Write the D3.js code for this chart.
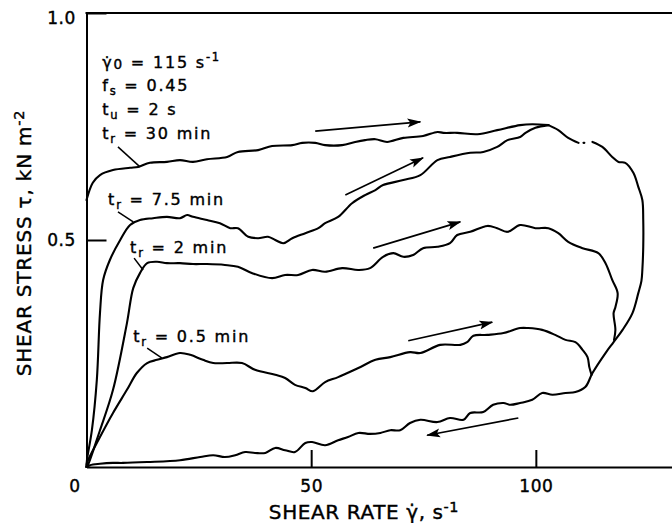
<!DOCTYPE html>
<html>
<head>
<meta charset="utf-8">
<script src="https://cdn.jsdelivr.net/npm/d3@7"></script>
<style>
  html, body { margin: 0; padding: 0; background: #fff; }
  svg { display: block; font-family: "DejaVu Sans", sans-serif; }
</style>
</head>
<body>
<svg id="chart" width="672" height="523"></svg>
<script>
// Shear stress (kN m-2) against shear rate (s-1): rising branches for each rest time,
// all closing onto one common descending branch back to the origin.

const xTicks = [0, 50, 100];
const yTicks = [0.5, 1.0];

// tr = 30 min, rising branch up to the peak (starts on the stress axis)
const up30 = [[0,0.588],[1.4,0.626],[3.0,0.643],[5.9,0.654],[9.7,0.659],[11.5,0.661],[14.1,0.670],
  [17.9,0.672],[20.8,0.676],[23.7,0.672],[26.8,0.678],[31.3,0.683],[33.7,0.694],[38.2,0.698],[41.3,0.707],
  [45.8,0.709],[48.0,0.714],[50.9,0.714],[53.1,0.709],[56.9,0.709],[59.8,0.716],[62.0,0.720],[64.3,0.722],
  [66.9,0.716],[70.5,0.725],[74.9,0.729],[78.1,0.738],[79.4,0.736],[82.5,0.736],[87.0,0.733],[91.4,0.742],
  [96.5,0.753],[99.2,0.755],[102.8,0.753]];

// common descending branch from the peak back to zero (null = gap in the trace)
const down = [[102.8,0.753],[105.0,0.742],[107.2,0.725],[109.5,0.714],null,[110.6,0.714],[110.8,0.714],null,
  [112.6,0.716],[114.8,0.705],[117.0,0.683],[118.4,0.672],[119.9,0.670],[121.7,0.648],[122.8,0.617],
  [123.7,0.588],[123.9,0.544],[123.9,0.485],[123.7,0.434],[123.5,0.41],[122.8,0.383],[121.5,0.339],
  [119.3,0.302],[117.3,0.275],[115.5,0.251],[112.6,0.207],[111.0,0.176],[108.8,0.165],[106.6,0.163],
  [103.7,0.159],[101.4,0.163],[99.2,0.148],[96.5,0.141],[94.3,0.137],[92.8,0.141],[90.5,0.137],
  [88.3,0.121],[85.4,0.119],[83.9,0.104],[80.9,0.108],[78.1,0.099],[74.3,0.104],[72.0,0.097],[69.8,0.081],
  [67.6,0.081],[65.4,0.075],[63.1,0.073],[60.5,0.075],[58.2,0.066],[56.0,0.059],[53.1,0.048],[50.2,0.055],
  [48.7,0.053],[46.4,0.033],[44.2,0.037],[42.0,0.042],[39.8,0.031],[37.5,0.031],[35.3,0.033],[33.1,0.026],
  [30.8,0.022],[28.2,0.026],[25.3,0.022],[20.8,0.015],[13.5,0.011],[8.1,0.009],[5.9,0.009],[3.0,0.007],
  [0.8,0.004],[0,0]];

// tr = 7.5 min
const up7_5 = [[0,0],[0.1,0.015],[1.2,0.081],[2.3,0.192],[3.0,0.339],[3.7,0.412],[5.2,0.456],[7.5,0.500],
  [9.7,0.533],[11.9,0.544],[14.8,0.548],[17.9,0.551],[20.8,0.548],[22.4,0.555],[23.7,0.551],[26.8,0.544],
  [29.7,0.537],[32.0,0.526],[33.7,0.526],[36.0,0.507],[38.2,0.504],[40.4,0.507],[42.0,0.500],[43.8,0.493],
  [45.8,0.504],[48.7,0.515],[51.6,0.526],[53.1,0.537],[56.0,0.551],[59.1,0.581],[62.0,0.599],[64.3,0.610],
  [66.0,0.621],[70.5,0.632],[74.3,0.643],[78.1,0.676],[80.9,0.683],[85.4,0.692],[88.3,0.694],[91.4,0.705],
  [93.7,0.720],[96.5,0.727],[97.7,0.736],[99.9,0.747],[102.8,0.753]];

// tr = 2 min
const up2 = [[0,0],[0.3,0.004],[3.0,0.081],[5.9,0.170],[9.0,0.317],[10.4,0.394],[11.9,0.427],[13.5,0.449],
  [15.7,0.452],[17.9,0.449],[20.8,0.449],[23.7,0.447],[26.8,0.447],[30.8,0.445],[33.7,0.441],[36.9,0.427],
  [41.3,0.416],[44.2,0.423],[47.1,0.423],[50.2,0.434],[53.1,0.430],[56.9,0.438],[60.5,0.434],[63.1,0.438],
  [66.0,0.463],[68.3,0.471],[70.5,0.463],[72.7,0.467],[74.9,0.482],[78.1,0.485],[80.9,0.493],[82.5,0.511],
  [85.4,0.518],[89.2,0.531],[91.4,0.526],[93.7,0.518],[96.5,0.533],[99.9,0.526],[102.8,0.526],[105.0,0.515],
  [107.2,0.496],[110.4,0.482],[113.9,0.471],[115.5,0.449],[117.0,0.412],[118.2,0.383],[117.7,0.352],
  [117.3,0.339],[117.7,0.302],[117.4,0.280]];

// tr = 0.5 min
const up0_5 = [[0,0],[0.1,0.009],[3.0,0.066],[5.9,0.119],[9.0,0.170],[11.2,0.207],[13.5,0.229],[15.7,0.236],
  [17.9,0.242],[20.8,0.251],[23.1,0.247],[25.9,0.236],[28.2,0.229],[31.3,0.229],[34.6,0.229],[37.5,0.214],
  [42.0,0.203],[44.2,0.196],[46.4,0.181],[48.7,0.174],[50.4,0.167],[53.1,0.187],[56.0,0.198],[60.5,0.218],
  [64.3,0.236],[67.6,0.242],[72.0,0.253],[74.3,0.251],[78.7,0.269],[83.2,0.269],[84.7,0.275],[86.1,0.289],
  [89.2,0.291],[92.8,0.295],[96.5,0.306],[98.3,0.306],[101.4,0.302],[104.3,0.291],[106.6,0.280],
  [108.8,0.275],[110.4,0.258],[111.5,0.242],[111.9,0.220],[112.4,0.203]];

// direction arrows: [x0, y0, x1, y1]
const arrows = [[50.9,0.740,74.3,0.760],[57.6,0.599,74.9,0.681],[63.8,0.482,83.2,0.540],
  [71.6,0.278,90.3,0.319],[96.1,0.108,75.8,0.070]];

// rest-time labels with leader lines to their curves
const restTimes = ["30", "7.5", "2", "0.5"];
const labelAt = [[3.5,0.722],[4.8,0.577],[9.7,0.471],[10.4,0.275]];
const leaders = [[7.0,0.705,11.9,0.661],[7.0,0.562,10.4,0.540],[10.6,0.460,12.6,0.434],[13.5,0.262,16.8,0.240]];

const svg = d3.select("#chart");
const x = d3.scaleLinear().domain([0, 130.3]).range([86.5, 672]);
const y = d3.scaleLinear().domain([0, 1]).range([467, 13]);

svg.append("defs").append("marker")
  .attr("id", "head").attr("viewBox", "0 -5 14 10").attr("refX", 13).attr("refY", 0)
  .attr("markerWidth", 14).attr("markerHeight", 10).attr("markerUnits", "userSpaceOnUse")
  .attr("orient", "auto")
  .append("path").attr("d", "M0,-4.5L14,0L0,4.5L3,0Z").attr("fill", "#000");

// axes with inward ticks
const xAxis = d3.axisBottom(x).tickValues(xTicks).tickSizeInner(-17).tickSizeOuter(0)
  .tickPadding(13).tickFormat(d3.format("d"));
const gx = svg.append("g").attr("transform", `translate(0,${y(0)})`).call(xAxis);
gx.selectAll("text").filter(d => d === 0).attr("x", -12);

const yAxis = d3.axisLeft(y).tickValues(yTicks).tickSizeInner(-20).tickSizeOuter(0)
  .tickPadding(10.5).tickFormat(d3.format(".1f"));
const gy = svg.append("g").attr("transform", `translate(${x(0)},0)`).call(yAxis);
gy.selectAll("text").filter(d => d === 1).attr("dy", "0.62em");

[gx, gy].forEach(g => {
  g.attr("font-family", "DejaVu Sans, sans-serif").attr("font-size", 17);
  g.selectAll("path, line").attr("stroke", "#000").attr("stroke-width", 2);
  g.selectAll("text").attr("fill", "#000").attr("stroke", "#000").attr("stroke-width", 0.4)
    .attr("letter-spacing", 0.6);
});

// top frame line
svg.append("line").attr("x1", x(0) - 1).attr("x2", 672).attr("y1", y(1)).attr("y2", y(1))
  .attr("stroke", "#000").attr("stroke-width", 2);

const line = d3.line().defined(d => d != null).x(d => x(d[0])).y(d => y(d[1]))
  .curve(d3.curveCatmullRom.alpha(0.5));
const curves = svg.append("g").attr("fill", "none").attr("stroke", "#000")
  .attr("stroke-width", 2.1).attr("stroke-linejoin", "round").attr("stroke-linecap", "round");
[up30, down, up7_5, up2, up0_5].forEach(s => curves.append("path").attr("d", line(s)));

svg.append("g").selectAll("line").data(arrows).join("line")
  .attr("x1", d => x(d[0])).attr("y1", d => y(d[1]))
  .attr("x2", d => x(d[2])).attr("y2", d => y(d[3]))
  .attr("stroke", "#000").attr("stroke-width", 1.7).attr("marker-end", "url(#head)");

svg.append("g").selectAll("line").data(leaders).join("line")
  .attr("x1", d => x(d[0])).attr("y1", d => y(d[1]))
  .attr("x2", d => x(d[2])).attr("y2", d => y(d[3]))
  .attr("stroke", "#000").attr("stroke-width", 1.5);

// text with sub/superscript parts: [string, "sub"|"sup"|"low"|undefined]
function rich(parent, px, py, parts, size, spacing) {
  const t = parent.append("text").attr("x", px).attr("y", py).attr("font-size", size)
    .attr("fill", "#000").attr("stroke", "#000").attr("stroke-width", 0.4)
    .attr("letter-spacing", spacing);
  let shift = 0;
  parts.forEach(([s, kind]) => {
    const target = kind === "sub" ? 4 : kind === "sup" ? -7 : kind === "low" ? 1 : 0;
    const ts = t.append("tspan").attr("dy", target - shift).text(s);
    if (kind) ts.attr("font-size", size * (kind === "low" ? 0.85 : 0.72));
    shift = target;
  });
  return t;
}

const notes = svg.append("g");
rich(notes, x(3.5), y(0.879), [["γ̇"], ["0", "low"], [" = 115 s"], ["-1", "sup"]], 16, 1.8);
rich(notes, x(3.5), y(0.828), [["f"], ["s", "sub"], [" = 0.45"]], 16, 1.8);
rich(notes, x(3.5), y(0.775), [["t"], ["u", "sub"], [" = 2 s"]], 16, 1.8);
restTimes.forEach((v, i) => {
  rich(notes, x(labelAt[i][0]), y(labelAt[i][1]), [["t"], ["r", "sub"], [` = ${v} min`]], 16, 1.8);
});

// axis titles
rich(svg, 364, 519, [["SHEAR RATE γ̇, s"], ["-1", "sup"]], 20, 0.6).attr("text-anchor", "middle");
rich(svg.append("g").attr("transform", "translate(31,243) rotate(-90)"), 0, 0,
  [["SHEAR STRESS τ, kN m"], ["-2", "sup"]], 20, 0.8).attr("text-anchor", "middle");
</script>
</body>
</html>
